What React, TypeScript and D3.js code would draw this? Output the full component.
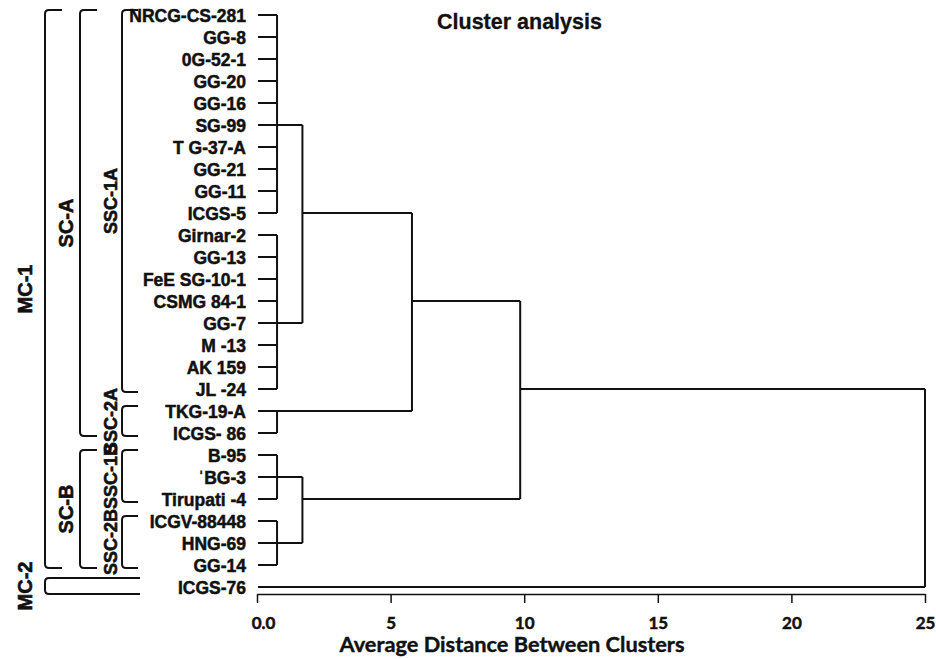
import React, { useRef, useEffect } from "react";
import * as d3 from "d3";

// leaf order, top to bottom
const leaves = [
  "NRCG-CS-281", "GG-8", "0G-52-1", "GG-20", "GG-16", "SG-99", "T G-37-A",
  "GG-21", "GG-11", "ICGS-5", "Girnar-2", "GG-13", "FeE SG-10-1", "CSMG 84-1",
  "GG-7", "M -13", "AK 159", "JL -24", "TKG-19-A", "ICGS- 86", "B-95",
  "\u02C8BG-3", "Tirupati -4", "ICGV-88448", "HNG-69", "GG-14", "ICGS-76",
];

// merges: children, distance, and the row the branch leaves from
const clusters = [
  { id: "c1", children: leaves.slice(0, 10), height: 0.75, at: "SG-99" },
  { id: "c2", children: leaves.slice(10, 18), height: 0.75, at: "GG-7" },
  { id: "c3", children: ["TKG-19-A", "ICGS- 86"], height: 0.75, at: "TKG-19-A" },
  { id: "c4", children: ["B-95", "\u02C8BG-3", "Tirupati -4"], height: 0.75, at: "\u02C8BG-3" },
  { id: "c5", children: ["ICGV-88448", "HNG-69", "GG-14"], height: 0.75, at: "HNG-69" },
  { id: "c6", children: ["c1", "c2"], height: 1.7, at: "ICGS-5" },
  { id: "c7", children: ["c4", "c5"], height: 1.7, at: "Tirupati -4" },
  { id: "c8", children: ["c6", "c3"], height: 5.8, at: "CSMG 84-1" },
  { id: "c9", children: ["c8", "c7"], height: 9.85, at: "JL -24" },
  { id: "c10", children: ["c9", "ICGS-76"], height: 25, at: "JL -24" },
];

// bracket annotations on the left
const groups = [
  { label: "MC-1", from: "NRCG-CS-281", to: "GG-14", level: 0 },
  { label: "MC-2", from: "ICGS-76", to: "ICGS-76", level: 0 },
  { label: "SC-A", from: "NRCG-CS-281", to: "ICGS- 86", level: 1 },
  { label: "SC-B", from: "B-95", to: "GG-14", level: 1 },
  { label: "SSC-1A", from: "NRCG-CS-281", to: "JL -24", level: 2 },
  { label: "SSC-2A", from: "TKG-19-A", to: "ICGS- 86", level: 2 },
  { label: "SSC-1B", from: "B-95", to: "Tirupati -4", level: 2 },
  { label: "SSC-2B", from: "ICGV-88448", to: "GG-14", level: 2 },
];

const tickValues = [0, 5, 10, 15, 20, 25];

const ARIAL = "'Liberation Sans', Arial, sans-serif";
const CALIBRI = "Lato, 'Open Sans', sans-serif";
const INK = "#111";

const Dendrogram = () => {
  const ref = useRef<SVGSVGElement>(null);

  useEffect(() => {
    const svg = d3.select(ref.current);
    svg.selectAll("*").remove();

    const x = d3.scaleLinear().domain([0, 25]).range([257, 925]);
    const y = d3.scalePoint<string>().domain(leaves).range([15, 587]);

    const byId = new Map(clusters.map((c) => [c.id, c]));
    const nodeX = (id: string) => (byId.has(id) ? x(byId.get(id)!.height) : x(0) + 1);
    const nodeY = (id: string) => (byId.has(id) ? y(byId.get(id)!.at)! : y(id)!);

    // tree
    const tree = svg.append("g").attr("fill", "none").attr("stroke", INK).attr("stroke-width", 2);
    clusters.forEach((c) => {
      const px = x(c.height);
      const ys = c.children.map(nodeY);
      let d = "";
      c.children.forEach((ch) => {
        d += `M${nodeX(ch)},${nodeY(ch)}H${px}`;
      });
      d += `M${px},${d3.min(ys)}V${d3.max(ys)}`;
      tree.append("path").attr("d", d);
    });

    // leaf labels
    svg.append("g")
      .selectAll("text")
      .data(leaves)
      .enter()
      .append("text")
      .attr("x", 246)
      .attr("y", (d) => y(d)! + 7)
      .attr("text-anchor", "end")
      .attr("font-family", ARIAL)
      .attr("font-weight", "bold")
      .attr("font-size", 17.5)
      .attr("fill", INK)
      .attr("stroke", INK)
      .attr("stroke-width", 0.5)
      .text((d) => d);

    // brackets
    const levelX = [45, 80, 122];
    const armLen = [17, 17, 16];
    const labelX = [25, 66, 111];
    const labelSize = [20, 20, 18];
    const br = svg.append("g");
    groups.forEach((g) => {
      const single = g.from === g.to;
      const top = y(g.from)! - (single ? 9 : 5);
      const bottom = y(g.to)! + (single ? 7 : 3);
      const bx = levelX[g.level];
      const arm = single ? 95 : armLen[g.level];
      const r = 4;
      br.append("path")
        .attr("d", `M${bx + arm},${top}H${bx + r}Q${bx},${top} ${bx},${top + r}V${bottom - r}Q${bx},${bottom} ${bx + r},${bottom}H${bx + arm}`)
        .attr("fill", "none")
        .attr("stroke", INK)
        .attr("stroke-width", 2);
      const cy = (top + bottom) / 2;
      br.append("text")
        .attr("transform", `translate(${labelX[g.level]},${cy}) rotate(-90)`)
        .attr("text-anchor", "middle")
        .attr("dominant-baseline", "central")
        .attr("font-family", ARIAL)
        .attr("font-weight", "bold")
        .attr("font-size", labelSize[g.level])
        .attr("fill", INK)
        .attr("stroke", INK)
        .attr("stroke-width", 0.6)
        .text(g.label);
    });

    // axis
    const axis = d3.axisBottom(x)
      .tickValues(tickValues)
      .tickSizeInner(9)
      .tickSizeOuter(0)
      .tickFormat((d) => (d === 0 ? "0.0" : String(d)));
    const ax = svg.append("g").attr("transform", "translate(0,594)").call(axis);
    ax.select(".domain").attr("stroke", INK).attr("stroke-width", 1.5);
    ax.selectAll(".tick line").attr("stroke", INK).attr("stroke-width", 1.5);
    ax.selectAll(".tick text")
      .attr("y", 35)
      .attr("dy", 0)
      .attr("dx", (d) => (d === 0 ? 6 : 0))
      .attr("fill", INK)
      .attr("stroke", INK)
      .attr("stroke-width", 0.5)
      .attr("font-family", CALIBRI)
      .attr("font-weight", "bold")
      .attr("font-size", 17);

    svg.append("text")
      .attr("x", 512)
      .attr("y", 652)
      .attr("text-anchor", "middle")
      .attr("font-family", CALIBRI)
      .attr("font-weight", "bold")
      .attr("font-size", 21)
      .attr("textLength", 345)
      .attr("lengthAdjust", "spacingAndGlyphs")
      .attr("fill", INK)
      .attr("stroke", INK)
      .attr("stroke-width", 0.4)
      .text("Average Distance Between Clusters");

    svg.append("text")
      .attr("x", 437)
      .attr("y", 29)
      .attr("font-family", ARIAL)
      .attr("font-weight", "bold")
      .attr("font-size", 21.5)
      .attr("fill", INK)
      .attr("stroke", INK)
      .attr("stroke-width", 0.3)
      .text("Cluster analysis");
  }, []);

  return (
    <svg
      ref={ref}
      width={936}
      height={659}
      style={{ position: "absolute", left: 0, top: 0, background: "#fff" }}
    ></svg>
  );
};

export default function App() {
  return <Dendrogram />;
}
